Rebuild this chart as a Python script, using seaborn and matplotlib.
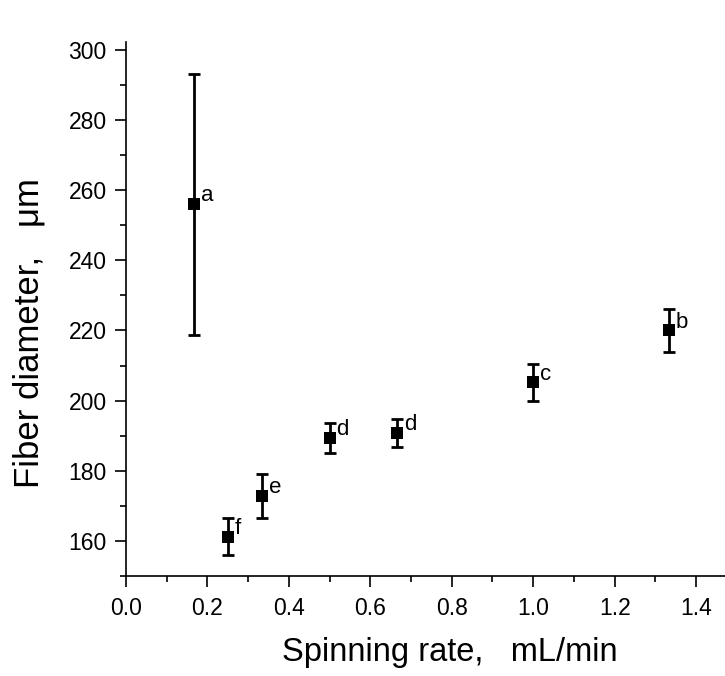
import matplotlib
matplotlib.use("Agg")
import matplotlib.pyplot as plt
import seaborn as sns
import pandas as pd
from matplotlib.ticker import MultipleLocator

# Data
rate = [1/6, 0.25, 1/3, 0.5, 2/3, 1.0, 4/3]
diameter = [256.0, 161.2, 172.9, 189.3, 190.8, 205.2, 220.0]
err = [37.2, 5.3, 6.3, 4.3, 3.9, 5.3, 6.1]
letters = ["a", "f", "e", "d", "d", "c", "b"]

x_ticks = [0.0, 0.2, 0.4, 0.6, 0.8, 1.0, 1.2, 1.4]
y_ticks = [160, 180, 200, 220, 240, 260, 280, 300]

df = pd.DataFrame({"rate": rate, "diameter": diameter, "err": err, "letter": letters})

sns.set_style("ticks")
plt.rcParams["font.family"] = ["Liberation Sans", "DejaVu Sans"]

fig = plt.figure(figsize=(7.25, 6.76), dpi=100)
ax = fig.add_axes([0.1738, 0.148, 0.8262, 0.790])

ax.errorbar(df["rate"], df["diameter"], yerr=df["err"], fmt="none",
            ecolor="black", elinewidth=2.0, capsize=4, capthick=2.0, zorder=2)
sns.scatterplot(data=df, x="rate", y="diameter", marker="s", s=75,
                color="black", edgecolor="black", linewidth=0, ax=ax, zorder=3)

for xv, yv, lab in zip(df["rate"], df["diameter"], df["letter"]):
    ax.annotate(lab, (xv, yv), xytext=(5, 6), textcoords="offset points",
                ha="left", va="center", fontsize=16, color="black")

ax.set_xlim(0, 1.471)
ax.set_ylim(150, 302.3)
ax.set_xticks(x_ticks)
ax.set_xticklabels([f"{v:.1f}" for v in x_ticks])
ax.set_yticks(y_ticks)
ax.set_yticklabels([str(v) for v in y_ticks])
ax.xaxis.set_minor_locator(MultipleLocator(0.1))
ax.yaxis.set_minor_locator(MultipleLocator(10))

ax.tick_params(axis="both", which="major", length=8, width=1.2, labelsize=16.5,
               color="black", labelcolor="black", direction="out")
ax.tick_params(axis="x", which="major", pad=7)
ax.tick_params(axis="y", which="major", pad=6)
ax.tick_params(axis="both", which="minor", length=4, width=1.2, color="black",
               direction="out")

for side in ["top", "right"]:
    ax.spines[side].set_visible(False)
for side in ["left", "bottom"]:
    ax.spines[side].set_linewidth(1.2)
    ax.spines[side].set_color("black")

ax.set_xlabel("Spinning rate,   mL/min", fontsize=23.5, color="black")
ax.set_ylabel("Fiber diameter,   \u03bcm", fontsize=25, color="black")
ax.xaxis.set_label_coords(0.54, -0.115)
ax.yaxis.set_label_coords(-0.135, 0.455)

fig.savefig("out.png", dpi=100)
